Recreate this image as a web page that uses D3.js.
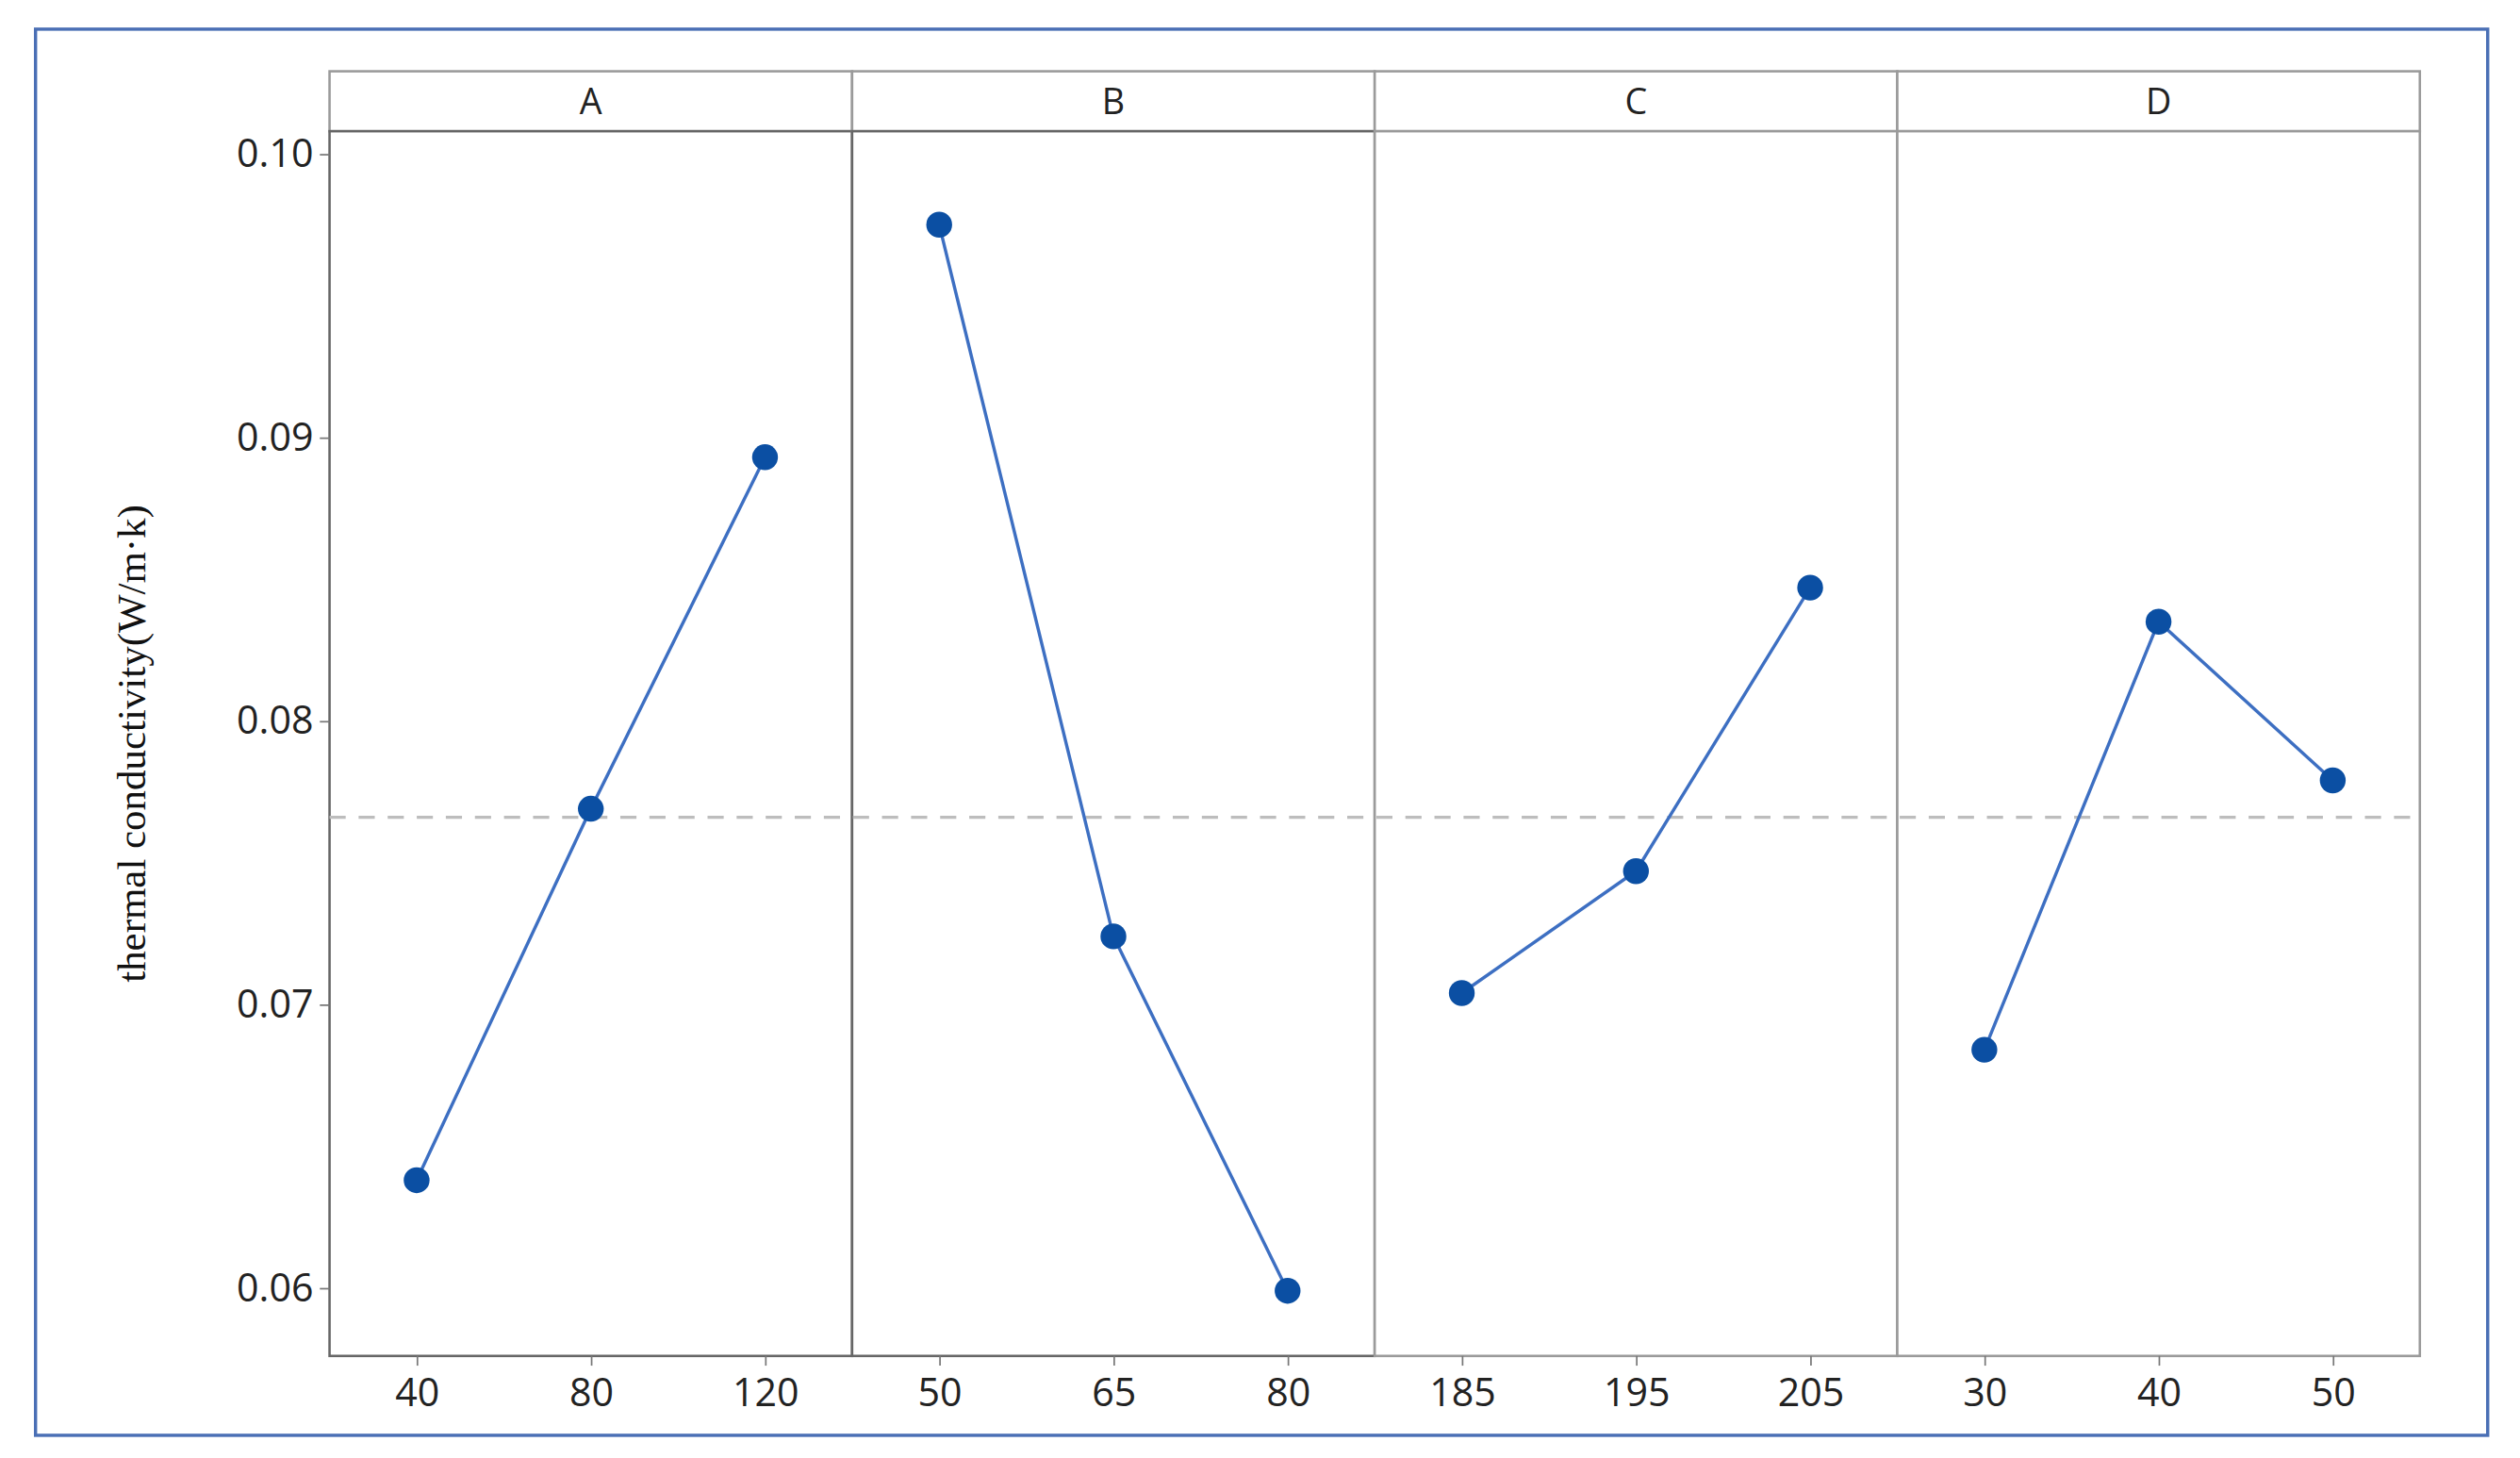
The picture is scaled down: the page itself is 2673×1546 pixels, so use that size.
<!DOCTYPE html>
<html>
<head>
<meta charset="utf-8">
<script src="https://cdn.jsdelivr.net/npm/d3@7"></script>
<style>
  html, body { margin: 0; padding: 0; background: #fff; }
  svg { display: block; }
</style>
</head>
<body>
<script>
// factor panels and their level labels
const factors = ['A', 'B', 'C', 'D'];
const levels = [
  ['40', '80', '120'],
  ['50', '65', '80'],
  ['185', '195', '205'],
  ['30', '40', '50']
];
// mean thermal conductivity at each level
const means = [
  [0.0638, 0.0769, 0.0893],
  [0.0975, 0.0724, 0.0599],
  [0.0704, 0.0747, 0.0847],
  [0.0684, 0.0835, 0.0779]
];
const grandMean = 0.0766;
const yTicks = [0.06, 0.07, 0.08, 0.09, 0.10];

// drawing is laid out in a 1560x900 frame and stretched to the window
const W = 1560, H = 900;
const svg = d3.select('body').append('svg')
  .attr('width', 2673).attr('height', 1546)
  .attr('viewBox', `0 0 ${W} ${H}`)
  .attr('preserveAspectRatio', 'none');

svg.append('rect')
  .attr('x', 22).attr('y', 18).attr('width', 1518).attr('height', 868)
  .attr('fill', '#fff').attr('stroke', '#4a6fb5').attr('stroke-width', 2);

const plotLeft = 204, plotRight = 1498, stripTop = 44, plotTop = 81, plotBottom = 837;
const y = d3.scaleLinear().domain([0.10, 0.06]).range([95, 795]);

const panel = d3.scaleBand().domain(factors).range([plotLeft, plotRight]).paddingInner(0);

// strip and panel backgrounds
factors.forEach((f, i) => {
  const x0 = panel(f), w = panel.bandwidth();
  const g = svg.append('g');
  g.append('rect').attr('x', x0).attr('y', stripTop).attr('width', w).attr('height', plotTop - stripTop)
    .attr('fill', '#fff').attr('stroke', '#9a9a9a').attr('stroke-width', 1.5);
  g.append('text').attr('x', x0 + w / 2).attr('y', (stripTop + plotTop) / 2 + 8)
    .attr('text-anchor', 'middle').attr('font-family', 'Open Sans, sans-serif')
    .attr('font-size', 22).attr('fill', '#222').text(f);
  g.append('rect').attr('x', x0).attr('y', plotTop).attr('width', w).attr('height', plotBottom - plotTop)
    .attr('fill', '#fff').attr('stroke', i < 2 ? '#666' : '#9a9a9a').attr('stroke-width', 1.5);
});

// y axis
const yAxis = svg.append('g').attr('transform', `translate(${plotLeft},0)`)
  .call(d3.axisLeft(y).tickValues(yTicks).tickFormat(d3.format('.2f')).tickSize(6).tickPadding(4));
yAxis.select('.domain').remove();
yAxis.selectAll('line').attr('stroke', '#777');
yAxis.selectAll('text').attr('font-family', 'Open Sans, sans-serif').attr('font-size', 24).attr('fill', '#222');

svg.append('text')
  .attr('transform', `translate(90,${(plotTop + plotBottom) / 2}) rotate(-90)`)
  .attr('text-anchor', 'middle')
  .attr('font-family', 'Liberation Serif, serif').attr('font-size', 25)
  .attr('fill', '#111').text('thermal conductivity(W/m·k)');

// grand mean reference line
svg.append('line')
  .attr('x1', plotLeft).attr('x2', plotRight).attr('y1', y(grandMean)).attr('y2', y(grandMean))
  .attr('stroke', '#bdbdbd').attr('stroke-width', 2).attr('stroke-dasharray', '10,8');

factors.forEach((f, i) => {
  const x = d3.scalePoint().domain(levels[i])
    .range([panel(f), panel(f) + panel.bandwidth()]).padding(0.5);
  const ax = svg.append('g').attr('transform', `translate(0,${plotBottom})`)
    .call(d3.axisBottom(x).tickSize(6).tickPadding(8));
  ax.select('.domain').remove();
  ax.selectAll('line').attr('stroke', '#777');
  ax.selectAll('text').attr('font-family', 'Open Sans, sans-serif').attr('font-size', 24).attr('fill', '#222');

  const pts = levels[i].map((l, j) => [x(l), y(means[i][j])]);
  svg.append('path').datum(pts)
    .attr('d', d3.line())
    .attr('fill', 'none').attr('stroke', '#3d6fc2').attr('stroke-width', 2);
  svg.append('g').selectAll('circle').data(pts).join('circle')
    .attr('cx', d => d[0]).attr('cy', d => d[1]).attr('r', 8)
    .attr('fill', '#0b4fa3');
});
</script>
</body>
</html>
